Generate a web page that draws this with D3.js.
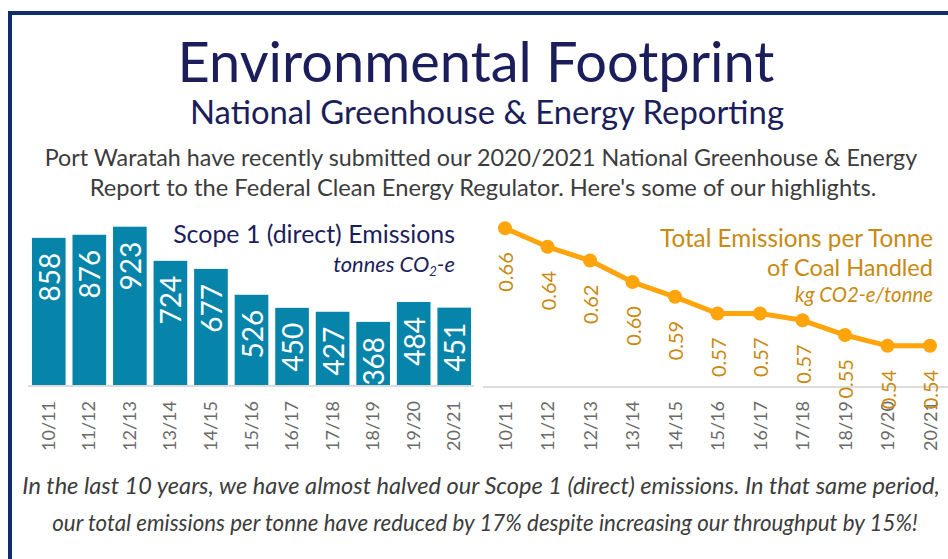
<!DOCTYPE html>
<html>
<head>
<meta charset="utf-8">
<script src="https://cdn.jsdelivr.net/npm/d3@7"></script>
<style>
  html, body { margin: 0; padding: 0; background: #fff; }
  svg { display: block; font-family: Lato, "Open Sans", sans-serif; }
</style>
</head>
<body>
<div id="chart"></div>
<script>
// data
const years = ['10/11', '11/12', '12/13', '13/14', '14/15', '15/16', '16/17', '17/18', '18/19', '19/20', '20/21'];
const scope1 = [858, 876, 923, 724, 677, 526, 450, 427, 368, 484, 451];
const perTonne = [0.660, 0.641, 0.627, 0.605, 0.590, 0.573, 0.573, 0.566, 0.551, 0.540, 0.540];
const perTonneLabels = ['0.66', '0.64', '0.62', '0.60', '0.59', '0.57', '0.57', '0.57', '0.55', '0.54', '0.54'];

const W = 948, H = 559;
const navy = '#1c1e5b', teal = '#0784aa', orange = '#ffa40a', gold = '#c88a10', grey = '#6a6a6a';

const svg = d3.select('#chart').append('svg')
  .attr('width', W)
  .attr('height', H);

/* frame: top and left only */
svg.append('path')
  .attr('d', 'M10,' + H + 'V13H' + W)
  .attr('fill', 'none')
  .attr('stroke', '#0f2d6c')
  .attr('stroke-width', 4);

// shrink/grow a text so it spans the width seen in the picture
function fit(sel, width) {
  const w = sel.node().getComputedTextLength();
  sel.attr('font-size', +sel.attr('font-size') * width / w);
  return sel;
}

function addText(x, y, str, size, color, anchor, width, italic) {
  const t = svg.append('text')
    .attr('x', x).attr('y', y)
    .attr('text-anchor', anchor)
    .attr('font-size', size)
    .attr('fill', color)
    .text(str);
  if (italic) t.attr('font-style', 'italic');
  if (width) fit(t, width);
  return t;
}

/* header */
addText(476, 82, 'Environmental Footprint', 54, navy, 'middle', 597);
addText(487, 124, 'National Greenhouse & Energy Reporting', 28, navy, 'middle', 594);
addText(481, 166, 'Port Waratah have recently submitted our 2020/2021 National Greenhouse & Energy', 21, '#3c3c3c', 'middle', 873);
addText(483, 196, "Report to the Federal Clean Energy Regulator. Here's some of our highlights.", 21, '#3c3c3c', 'middle', 787);

/* left: scope 1 bars */
const x = d3.scaleBand().domain(years).range([28.5, 474.5]).paddingInner(0.17).paddingOuter(0.085);
const y = d3.scaleLinear().domain([0, 1000]).range([385, 213.5]);

const left = svg.append('g').attr('class', 'scope1');

left.selectAll('rect.bar')
  .data(scope1)
  .join('rect')
  .attr('class', 'bar')
  .attr('x', (d, i) => x(years[i]))
  .attr('y', d => y(d))
  .attr('width', x.bandwidth())
  .attr('height', d => y(0) - y(d))
  .attr('fill', teal);

left.selectAll('text.val')
  .data(scope1)
  .join('text')
  .attr('class', 'val')
  .attr('transform', (d, i) => 'translate(' + (x(years[i]) + x.bandwidth() / 2) + ',' + (y(d) + 15) + ') rotate(-90)')
  .attr('text-anchor', 'end')
  .attr('dominant-baseline', 'central')
  .attr('font-size', 28)
  .attr('fill', '#fff')
  .text(d => d);

const xAxisL = left.append('g')
  .attr('transform', 'translate(0,386)')
  .call(d3.axisBottom(x).tickSize(0).tickPadding(0));
xAxisL.select('.domain').attr('stroke', '#dcdcdc').attr('stroke-width', 2).attr('d', 'M28,0H474');
xAxisL.selectAll('.tick text')
  .attr('transform', 'translate(-1,15) rotate(-90)')
  .attr('y', 0).attr('dy', 0)
  .attr('text-anchor', 'end')
  .attr('dominant-baseline', 'central')
  .attr('font-family', 'Lato, sans-serif')
  .attr('font-size', 18)
  .attr('fill', grey);

addText(455, 243, 'Scope 1 (direct) Emissions', 23, navy, 'end', 282);
const unitL = svg.append('text')
  .attr('x', 455).attr('y', 272)
  .attr('text-anchor', 'end')
  .attr('font-size', 19)
  .attr('font-style', 'italic')
  .attr('fill', navy);
unitL.append('tspan').text('tonnes CO');
unitL.append('tspan').attr('font-size', 13).attr('dy', 4).text('2');
unitL.append('tspan').attr('dy', -4).text('-e');
fit(unitL, 123);

/* right: emissions per tonne */
const xr = d3.scalePoint().domain(years).range([505, 930]);
const yr = d3.scaleLinear().domain([0.5, 0.7]).range([385, 189]);

const right = svg.append('g').attr('class', 'pertonne');

const xAxisR = right.append('g')
  .attr('transform', 'translate(0,387)')
  .call(d3.axisBottom(xr).tickSize(0).tickPadding(0));
xAxisR.select('.domain').attr('stroke', '#dcdcdc').attr('stroke-width', 2).attr('d', 'M483,0H948');
xAxisR.selectAll('.tick text')
  .attr('transform', 'translate(-1,14) rotate(-90)')
  .attr('y', 0).attr('dy', 0)
  .attr('text-anchor', 'end')
  .attr('dominant-baseline', 'central')
  .attr('font-family', 'Lato, sans-serif')
  .attr('font-size', 18)
  .attr('fill', grey);

const line = d3.line()
  .x((d, i) => xr(years[i]))
  .y(d => yr(d));

right.append('path')
  .datum(perTonne)
  .attr('d', line)
  .attr('fill', 'none')
  .attr('stroke', orange)
  .attr('stroke-width', 5)
  .attr('stroke-linejoin', 'round');

right.selectAll('circle')
  .data(perTonne)
  .join('circle')
  .attr('cx', (d, i) => xr(years[i]))
  .attr('cy', d => yr(d))
  .attr('r', 7)
  .attr('fill', orange);

right.selectAll('text.val')
  .data(perTonne)
  .join('text')
  .attr('class', 'val')
  .attr('transform', (d, i) => 'translate(' + xr(years[i]) + ',' + (yr(d) + 24) + ') rotate(-90)')
  .attr('text-anchor', 'end')
  .attr('dominant-baseline', 'central')
  .attr('font-size', 20)
  .attr('fill', gold)
  .text((d, i) => perTonneLabels[i]);

addText(933, 247, 'Total Emissions per Tonne', 23, gold, 'end', 273);
addText(933, 276, 'of Coal Handled', 23, gold, 'end', 166);
addText(933, 302, 'kg CO2-e/tonne', 19, gold, 'end', 138, true);

/* footer */
addText(481, 494, 'In the last 10 years, we have almost halved our Scope 1 (direct) emissions. In that same period,', 21, '#3c3c3c', 'middle', 918, true);
addText(485, 531, 'our total emissions per tonne have reduced by 17% despite increasing our throughput by 15%!', 21, '#3c3c3c', 'middle', 866, true);
</script>
</body>
</html>
